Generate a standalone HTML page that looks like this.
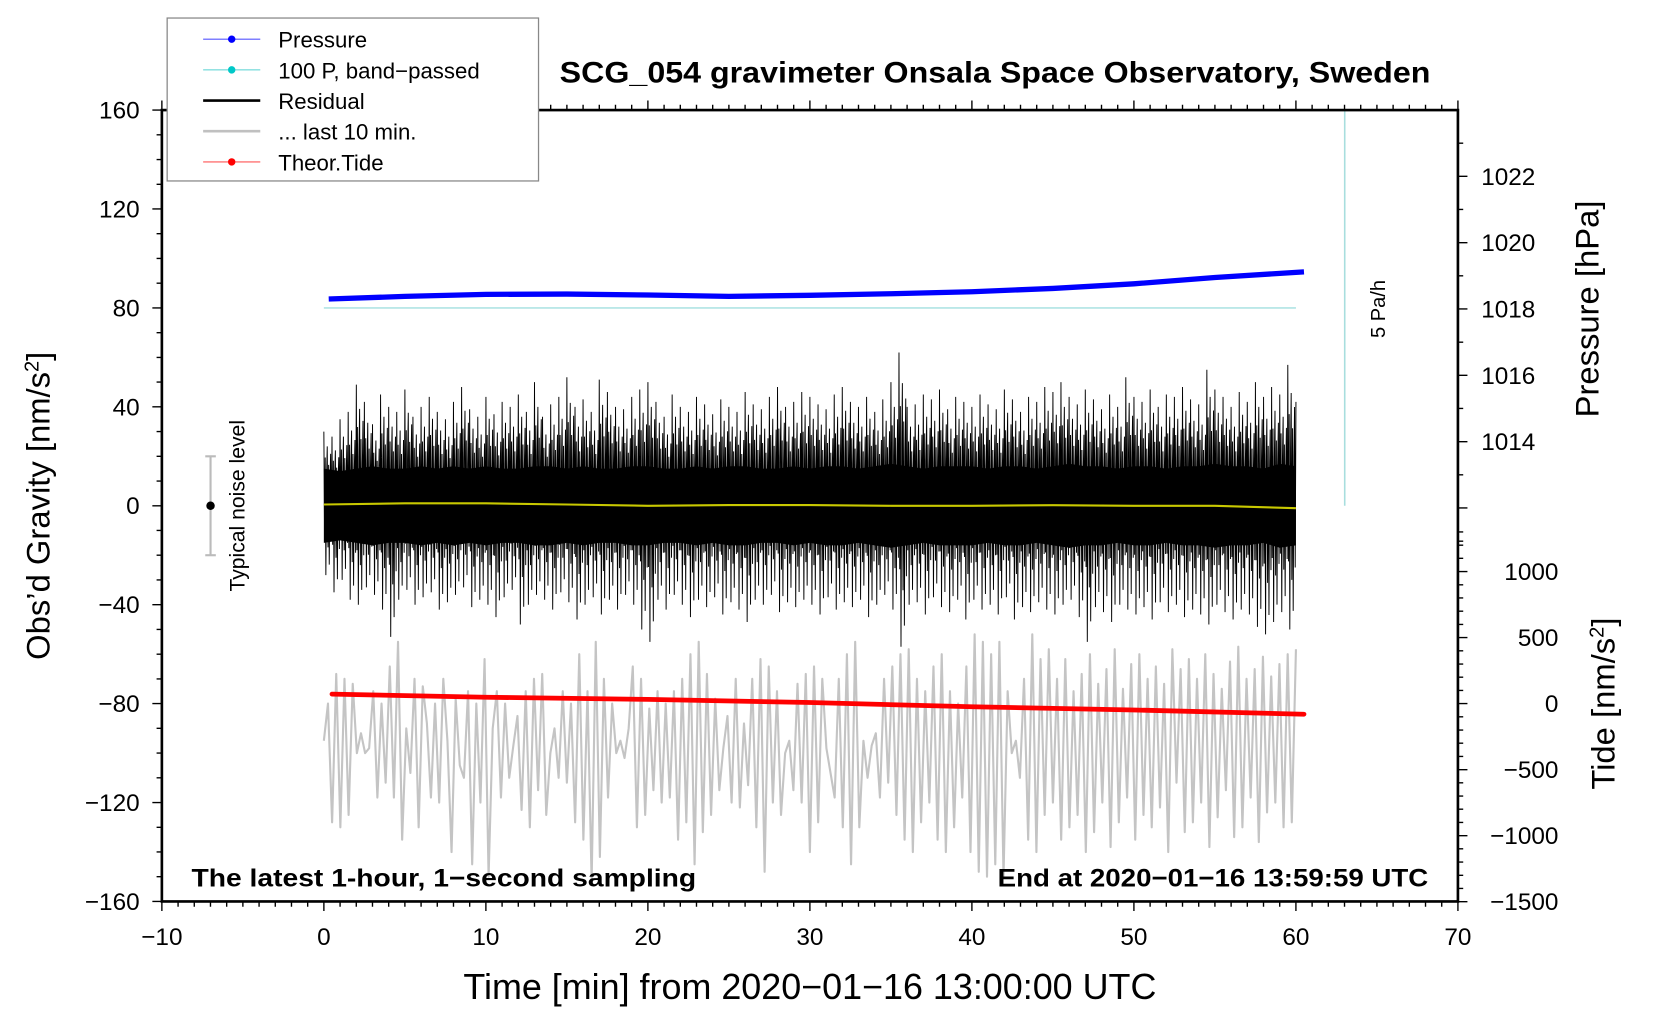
<!DOCTYPE html>
<html><head><meta charset="utf-8"><style>
html,body{margin:0;padding:0;background:#fff;}
svg{display:block;font-family:"Liberation Sans",sans-serif;}
</style></head><body>
<svg id="chart" width="1660" height="1020" viewBox="0 0 1569 964" xmlns="http://www.w3.org/2000/svg">
<g id="layer-data"></g>
<g id="layer-axes"></g>
</svg>
<script>
// ---- data ----
const pressureTimes = [0.3,5,10,15,20,25,30,35,40,45,50,55,60.5];
const pressureValues = [1018.3,1018.38,1018.44,1018.45,1018.42,1018.38,1018.41,1018.46,1018.52,1018.62,1018.76,1018.95,1019.12];
const bandPassedTimes = [0,60];
const bandPassedValues = [80,80];
const tideTimes = [0.5,10,20,30,40,50,60.5];
const tideValues = [72,48,32,8,-24,-48,-80];
const yellowTimes = [0,5,10,15,20,25,30,35,40,45,50,55,60];
const yellowValues = [0.5,1,1,0.5,0,0.3,0.3,0,0,0.2,0,0,-1];
const residualMax = [30,28,35,38,49,42,33,45,40,38,47,36,40,44,38,35,42,48,39,36,44,
37,42,40,45,38,50,36,41,44,52,40,43,38,51,46,40,39,44,47,50,
42,36,45,40,38,44,41,37,43,40,38,46,41,39,44,48,40,42,46,44,
41,39,45,48,42,40,44,38,43,50,62,40,41,45,43,47,39,44,42,40,
45,41,39,47,43,38,44,42,48,46,50,44,41,47,43,39,45,40,52,44,
42,47,40,45,44,48,43,41,55,47,44,40,46,42,50,44,48,45,57,42];
const residualMin = [-28,-35,-30,-38,-40,-33,-36,-42,-53,-38,-34,-40,-37,-35,-42,-39,-36,-33,-41,-38,-40,
-45,-37,-34,-48,-40,-36,-38,-42,-35,-39,-46,-40,-37,-44,-38,-42,-36,-40,-50,
-55,-38,-42,-36,-40,-45,-38,-41,-37,-44,-39,-42,-47,-38,-40,-36,-43,-39,-41,-38,
-40,-44,-37,-42,-39,-41,-38,-45,-40,-36,-42,-57,-40,-39,-44,-37,-41,-43,-38,-46,
-38,-42,-40,-44,-37,-46,-41,-43,-39,-42,-44,-40,-38,-45,-55,-41,-43,-47,-40,-42,
-44,-41,-46,-39,-43,-40,-45,-42,-44,-48,-40,-43,-46,-42,-44,-49,-52,-47,-43,-50];
const residualCore = [15,14,15,16,15,15,16,15,16,15,16,15,15,16,16,15,16,15,15,16,16,15,15,16,15,16,16,15,15,16,15,16,16,15,16,17,16,15,16,16,16,15,16,16,15,16,17,16,16,15,16,16,15,16,16,17,16,16,15,17,16];
const grayValues = [-95,-80,-128,-68,-130,-70,-125,-72,-100,-92,-100,-98,-75,-118,-80,-112,-65,-118,-55,-135,-90,-108,-70,-130,-73,-88,-118,-80,-120,-70,-95,-140,-78,-105,-110,-75,-145,-80,-120,-62,-150,-90,-75,-118,-80,-110,-97,-85,-123,-75,-130,-70,-115,-68,-125,-100,-90,-110,-75,-112,-80,-128,-60,-135,-75,-152,-55,-142,-70,-118,-80,-100,-95,-102,-90,-65,-130,-70,-125,-82,-115,-75,-120,-80,-118,-75,-135,-70,-128,-60,-145,-55,-132,-68,-125,-78,-115,-98,-85,-120,-70,-122,-88,-113,-70,-130,-62,-148,-65,-120,-75,-125,-100,-95,-115,-72,-120,-68,-140,-65,-128,-70,-98,-108,-118,-70,-130,-60,-145,-55,-130,-95,-110,-97,-92,-118,-70,-112,-65,-125,-60,-135,-58,-140,-70,-128,-75,-120,-65,-135,-60,-140,-75,-130,-80,-118,-65,-140,-52,-148,-55,-150,-60,-145,-55,-150,-75,-100,-95,-110,-70,-135,-52,-140,-62,-125,-58,-120,-70,-135,-62,-130,-75,-125,-68,-140,-60,-132,-72,-120,-66,-138,-58,-128,-74,-118,-64,-135,-60,-125,-70,-130,-65,-122,-72,-140,-58,-112,-66,-132,-62,-128,-70,-120,-60,-138,-68,-126,-74,-115,-63,-134,-57,-130,-70,-118,-66,-136,-61,-124,-69,-120,-64,-130,-60,-128,-58];
const xTicks = [-10,0,10,20,30,40,50,60,70];
const yTicks = [-160,-120,-80,-40,0,40,80,120,160];
const pressureTicks = [1014,1016,1018,1020,1022];
const tideTicks = [-1500,-1000,-500,0,500,1000];

// ---- axis functions ----
const L=153,R=1378,T=104,B=852;
const xs = t => L + (t+10)/80*(R-L);
const ys = g => T + (160-g)/320*(B-T);
const yp = p => 292 - (p-1018)*31.35;
const yt = v => 665 - v/500*62.4;

const NS="http://www.w3.org/2000/svg";
const dataG=document.getElementById('layer-data');
const axG=document.getElementById('layer-axes');
function mk(tag,attrs,parent){const e=document.createElementNS(NS,tag);for(const k in attrs)e.setAttribute(k,attrs[k]);parent.appendChild(e);return e;}
function txt(s,x,y,attrs,parent){const e=mk('text',Object.assign({x:x,y:y},attrs),parent);e.textContent=s;return e;}
function pts(ts,vs,yf){return ts.map((t,i)=>xs(t).toFixed(1)+','+yf(vs[i]).toFixed(1)).join(' ');}

// gray last-10-min
const gT = grayValues.map((v,i)=>i*60/(grayValues.length-1));
let e=mk('polyline',{points:pts(gT,grayValues,ys),fill:'none',stroke:'#c4c4c4','stroke-width':2,'stroke-linejoin':'round'},dataG);



// residual core band
const cT = residualCore.map((v,i)=>i);
let up=cT.map((t,i)=>xs(t).toFixed(1)+','+ys(residualCore[i]).toFixed(1));
let dn=cT.map((t,i)=>xs(t).toFixed(1)+','+ys(-residualCore[i]).toFixed(1)).reverse();
e=mk('polygon',{points:up.concat(dn).join(' '),fill:'#000'},dataG);


// residual texture (sub-sample shape pattern is styling, amplitudes come from data arrays)
const shape=[1,-0.45,0.65,-1,0.4,0.8,-0.6,0.55,-0.85,0.35,0.7,-0.5];
const rT = residualMax.map((v,i)=>i*60/(residualMax.length-1));
const step=(xs(rT[1])-xs(rT[0]))/shape.length;
let zz=[];
rT.forEach((t,i)=>{
  shape.forEach((f,k)=>{
    const amp = f>0 ? f*residualMax[i] : -f*residualMin[i];
    zz.push((xs(t)+k*step).toFixed(1)+','+ys(amp).toFixed(1));
  });
});
e=mk('polyline',{points:zz.join(' '),fill:'none',stroke:'#000','stroke-width':0.9},dataG);



// yellow
e=mk('polyline',{points:pts(yellowTimes,yellowValues,ys),fill:'none',stroke:'#c8c800','stroke-width':2},dataG);



// band passed cyan
e=mk('polyline',{points:pts(bandPassedTimes,bandPassedValues,ys),fill:'none',stroke:'#b0e4e4','stroke-width':1.5},dataG);



// pressure
e=mk('polyline',{points:pts(pressureTimes,pressureValues,yp),fill:'none',stroke:'#0000ff','stroke-width':5,'stroke-linejoin':'round'},dataG);



// tide
e=mk('polyline',{points:pts(tideTimes,tideValues,yt),fill:'none',stroke:'#ff0000','stroke-width':4.5,'stroke-linecap':'round'},dataG);



// 5 Pa/h line
e=mk('line',{x1:1271,y1:T,x2:1271,y2:ys(0),stroke:'#a8dede','stroke-width':1.5},dataG);


e=txt('5 Pa/h',0,0,{'font-size':19,transform:'translate(1309,292) rotate(-90)','text-anchor':'middle'},dataG);



// noise bar
e=mk('g',{},dataG);


mk('line',{x1:199,y1:ys(20),x2:199,y2:ys(-20),stroke:'#bbb','stroke-width':2},e);
mk('line',{x1:194,y1:ys(20),x2:204,y2:ys(20),stroke:'#bbb','stroke-width':2},e);
mk('line',{x1:194,y1:ys(-20),x2:204,y2:ys(-20),stroke:'#bbb','stroke-width':2},e);
mk('circle',{cx:199,cy:ys(0),r:4,fill:'#000'},e);
e=txt('Typical noise level',0,0,{'font-size':20,transform:'translate(231,478) rotate(-90)','text-anchor':'middle'},dataG);



// ---- axes ----
e=mk('rect',{x:L,y:T,width:R-L,height:B-T,fill:'none',stroke:'#000','stroke-width':2.5},axG);


let tk=[];
for(let v=-10;v<=70;v++){const x=xs(v);const len=(v%10===0)?9:5;tk.push(`M${x},${B}v${len}M${x},${T}v${-len}`);}
for(let g=-160;g<=160;g+=10){const y=ys(g);const len=(g%40===0)?9:5;tk.push(`M${L},${y}h${-len}`);}
for(let p=1011;p<=1023;p++){const y=yp(p);const len=(p%2===0)?9:5;tk.push(`M${R},${y}h${len}`);}
for(let v=-1500;v<=1300;v+=100){const y=yt(v);const len=(v%500===0)?9:5;tk.push(`M${R},${y}h${len}`);}
e=mk('path',{d:tk.join(''),stroke:'#000','stroke-width':1.3,fill:'none'},axG);


xTicks.forEach(v=>{e=txt(String(v).replace('-','\u2212'),xs(v),893,{'font-size':23,'text-anchor':'middle'},axG);

});
yTicks.forEach(v=>{e=txt(String(v).replace('-','\u2212'),132,ys(v)+8,{'font-size':23,'text-anchor':'end'},axG);

});
pressureTicks.forEach(v=>{e=txt(String(v),1400,yp(v)+8,{'font-size':23},axG);

});
tideTicks.forEach(v=>{e=txt(String(v).replace('-','\u2212'),1473,yt(v)+8,{'font-size':23,'text-anchor':'end'},axG);

});
</script>
<!-- static text -->
<svg style="position:absolute;left:0;top:0" width="1660" height="1020" viewBox="0 0 1569 964" xmlns="http://www.w3.org/2000/svg" font-family="Liberation Sans, sans-serif">
<text x="529" y="78" font-size="28" font-weight="bold" textLength="823" lengthAdjust="spacingAndGlyphs">SCG_054 gravimeter Onsala Space Observatory, Sweden</text>
<text x="438" y="944" font-size="34" textLength="655" lengthAdjust="spacingAndGlyphs">Time [min] from 2020−01−16 13:00:00 UTC</text>
<text transform="translate(47,478) rotate(-90)" font-size="31" text-anchor="middle">Obs’d Gravity [nm/s<tspan baseline-shift="super" font-size="19">2</tspan>]</text>
<text transform="translate(1511,292) rotate(-90)" font-size="31" text-anchor="middle">Pressure [hPa]</text>
<text transform="translate(1526,665) rotate(-90)" font-size="31" text-anchor="middle">Tide [nm/s<tspan baseline-shift="super" font-size="19">2</tspan>]</text>
<text x="181" y="838" font-size="24" font-weight="bold" textLength="477" lengthAdjust="spacingAndGlyphs">The latest 1-hour, 1−second sampling</text>
<text x="943" y="838" font-size="24" font-weight="bold" textLength="407" lengthAdjust="spacingAndGlyphs">End at 2020−01−16 13:59:59 UTC</text>
<g>
<rect x="158" y="17" width="351" height="154" fill="#fff" stroke="#888" stroke-width="1.2"/>
<g><line x1="192" y1="37" x2="246" y2="37" stroke="#5555ff" stroke-width="1"/><circle cx="219" cy="37" r="3.5" fill="#0000ff"/><text x="263" y="45" font-size="21">Pressure</text></g>
<g><line x1="192" y1="66" x2="246" y2="66" stroke="#55d0d0" stroke-width="1"/><circle cx="219" cy="66" r="3.5" fill="#00c8c8"/><text x="263" y="74" font-size="21">100 P, band−passed</text></g>
<g><line x1="192" y1="95" x2="246" y2="95" stroke="#000" stroke-width="2.5"/><text x="263" y="103" font-size="21">Residual</text></g>
<g><line x1="192" y1="124" x2="246" y2="124" stroke="#c0c0c0" stroke-width="2.5"/><text x="263" y="132" font-size="21">... last 10 min.</text></g>
<g><line x1="192" y1="153" x2="246" y2="153" stroke="#ff5555" stroke-width="1"/><circle cx="219" cy="153" r="3.5" fill="#ff0000"/><text x="263" y="161" font-size="21">Theor.Tide</text></g>
</g>
</svg>
</body></html>
